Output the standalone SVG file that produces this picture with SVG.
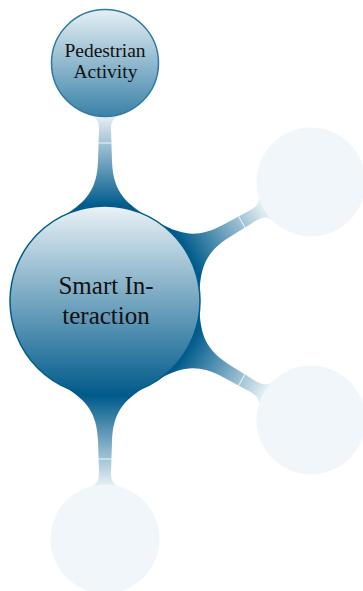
<svg xmlns="http://www.w3.org/2000/svg" width="363" height="591" viewBox="0 0 363 591">
  <defs>
    <style>
      .bar { fill: url(#barShade); }
      .seam { stroke: #ffffff; stroke-width: 1; stroke-opacity: 0.85; }
      .faint { fill: #f0f6f9; }
      .label { font-family: "Liberation Serif", "DejaVu Serif", serif; fill: #111111; text-anchor: middle; }
    </style>
    <!-- shading along a connection bar, in its local frame (u axis = parent to child) -->
    <linearGradient id="barShade" gradientUnits="userSpaceOnUse" x1="95" y1="0" x2="186" y2="0">
      <stop offset="0" stop-color="#005b8c"/>
      <stop offset="1" stop-color="#eaf2f6"/>
    </linearGradient>
    <linearGradient id="rootShade" x1="0" y1="0" x2="0" y2="1">
      <stop offset="0" stop-color="#eaf2f6"/>
      <stop offset="1" stop-color="#005a8a"/>
    </linearGradient>
    <linearGradient id="childShade" x1="0" y1="0" x2="0" y2="1">
      <stop offset="0" stop-color="#e6f0f4"/>
      <stop offset="1" stop-color="#3a82a8"/>
    </linearGradient>
    <!-- tapered bar with concave flares, from the root rim to a child rim -->
    <g id="bar">
      <path class="bar" d="M 86,40 C 100,18 112,8 140,7 L 172,6 C 180,6 183,9 186,14 L 186,-14 C 183,-9 180,-6 172,-6 L 140,-7 C 112,-8 100,-18 86,-40 Z"/>
      <line class="seam" x1="158" y1="-6.4" x2="158" y2="6.4"/>
    </g>
  </defs>

  <g id="connectors">
    <use href="#bar" transform="translate(105,301) rotate(-90)"/>
    <use href="#bar" transform="translate(105,301) rotate(-30)"/>
    <use href="#bar" transform="translate(105,301) rotate(30)"/>
    <use href="#bar" transform="translate(105,301) rotate(90)"/>
  </g>

  <g id="smart-interaction">
    <circle cx="105" cy="301" r="95" fill="url(#rootShade)" stroke="#005c8c" stroke-width="1.5"/>
    <text class="label" x="106" y="294" font-size="25">Smart In-</text>
    <text class="label" x="106" y="324" font-size="25">teraction</text>
  </g>

  <g id="pedestrian-activity">
    <circle cx="105" cy="63" r="53.5" fill="url(#childShade)" stroke="#2e7aa2" stroke-width="1.5"/>
    <text class="label" x="105" y="56.5" font-size="19.5">Pedestrian</text>
    <text class="label" x="105.5" y="77.5" font-size="19.5">Activity</text>
  </g>

  <g id="child-upper-right">
    <circle class="faint" cx="311" cy="182" r="54.5"/>
  </g>

  <g id="child-lower-right">
    <circle class="faint" cx="311" cy="420" r="54.5"/>
  </g>

  <g id="child-bottom">
    <circle class="faint" cx="105" cy="539" r="54.5"/>
  </g>
</svg>
